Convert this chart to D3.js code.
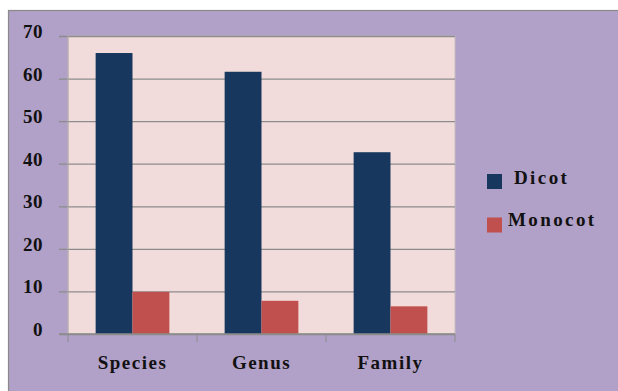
<!DOCTYPE html>
<html>
<head>
<meta charset="utf-8">
<script src="https://cdn.jsdelivr.net/npm/d3@7"></script>
<style>
   html, body { margin: 0; padding: 0; background: #ffffff; }
   svg { display: block; }
   .label-text { font-family: "Liberation Serif", "Times New Roman", serif; font-weight: bold; fill: #111; }
</style>
</head>
<body>
<div class="bar-chart-container"></div>
<script>
// chart data
const categories = ['Species', 'Genus', 'Family'];
const series_names = ['Dicot', 'Monocot'];
const dicot_values = [66, 61.6, 42.7];
const monocot_values = [9.9, 7.8, 6.5];
const y_ticks = [0, 10, 20, 30, 40, 50, 60, 70];
const series_colors = ['#17375e', '#c0504d'];

function prepare_bar_data() {
   return categories.map((c, i) => ({
      category: c,
      values: [
         {name: series_names[0], value: dicot_values[i]},
         {name: series_names[1], value: monocot_values[i]}
      ]
   }));
}

function build_container() {
   const svg = d3.select('.bar-chart-container')
      .append('svg')
      .attr('width', 618)
      .attr('height', 391);

   // purple frame
   svg.append('rect')
      .attr('x', 8.5).attr('y', 10.5)
      .attr('width', 618).attr('height', 391)
      .style('fill', '#b1a0c7')
      .style('stroke', '#8a8a8a')
      .style('stroke-width', 1.2);

   return svg;
}

function bar_chart_main() {
   const margin = {top: 36, left: 68};
   const width = 455 - 68;
   const height = 334 - 36;

   const data = prepare_bar_data();
   const svg = build_container();
   const g = svg.append('g')
      .attr('transform', `translate(${margin.left}, ${margin.top})`);

   const x0 = d3.scaleBand()
      .domain(categories)
      .range([0, width])
      .padding(0);

   const x1 = d3.scaleBand()
      .domain(series_names)
      .range([0, x0.bandwidth()])
      .paddingInner(0)
      .paddingOuter(0.75);

   const y = d3.scaleLinear()
      .domain([0, 70])
      .range([height, 0]);

   const color = d3.scaleOrdinal().domain(series_names).range(series_colors);

   // plot area
   g.append('rect')
      .attr('width', width).attr('height', height)
      .style('fill', '#f2dcdb')
      .style('stroke', '#c8bcc0')
      .style('stroke-width', 1);

   // grid lines with outer ticks
   const y_axis = d3.axisLeft(y)
      .tickValues(y_ticks)
      .tickSizeInner(-(width + 9))
      .tickSizeOuter(0)
      .tickPadding(16)
      .tickFormat(d3.format('d'));

   const y_g = g.append('g')
      .attr('class', 'y axis')
      .attr('transform', 'translate(-9, 0)')
      .call(y_axis);
   y_g.select('.domain').remove();
   y_g.selectAll('.tick line')
      .style('stroke', '#8c8c8c')
      .style('stroke-width', 1.3);
   y_g.selectAll('.tick text')
      .attr('class', 'label-text')
      .attr('dy', '0.08em')
      .style('font-size', '19px')
      .style('letter-spacing', '0.5px');

   // left axis line
   g.append('line')
      .attr('x1', 0).attr('x2', 0)
      .attr('y1', 0).attr('y2', height)
      .style('stroke', '#b0a8ac');

   // bars
   g.append('g').selectAll('g')
      .data(data)
      .enter()
      .append('g')
      .attr('transform', d => `translate(${x0(d.category)}, 0)`)
      .selectAll('rect')
      .data(d => d.values)
      .enter()
      .append('rect')
      .attr('x', d => x1(d.name))
      .attr('y', d => y(d.value))
      .attr('width', x1.bandwidth())
      .attr('height', d => height - y(d.value))
      .style('fill', d => color(d.name));

   // x axis
   const x_axis = d3.axisBottom(x0)
      .tickSize(0)
      .tickPadding(22);
   const x_g = g.append('g')
      .attr('class', 'x axis')
      .attr('transform', `translate(0, ${height})`)
      .call(x_axis);
   x_g.select('.domain').remove();
   x_g.selectAll('.tick text')
      .attr('class', 'label-text')
      .style('font-size', '19px')
      .style('letter-spacing', '1.5px');

   x_g.append('line')
      .attr('x1', -9).attr('x2', width)
      .style('stroke', '#8c8c8c')
      .style('stroke-width', 1.3);

   // category separator ticks
   x_g.selectAll('.sep')
      .data(categories.concat(['end']))
      .enter()
      .append('line')
      .attr('class', 'sep')
      .attr('x1', (d, i) => i * x0.step())
      .attr('x2', (d, i) => i * x0.step())
      .attr('y1', 0).attr('y2', 8)
      .style('stroke', '#8c8c8c')
      .style('stroke-width', 1);

   // legend
   const legend = svg.append('g')
      .attr('transform', 'translate(487, 174)')
      .selectAll('g')
      .data(series_names)
      .enter()
      .append('g')
      .attr('transform', (d, i) => `translate(0, ${i * 43.5})`);

   legend.append('rect')
      .attr('width', 15).attr('height', 15)
      .style('fill', d => color(d));

   legend.append('text')
      .attr('class', 'label-text')
      .attr('x', (d, i) => i === 0 ? 27 : 21)
      .attr('y', (d, i) => i === 0 ? 9.5 : 8.5)
      .style('font-size', '19px')
      .style('letter-spacing', '2.4px')
      .text(d => d);
}

bar_chart_main();
</script>
</body>
</html>
